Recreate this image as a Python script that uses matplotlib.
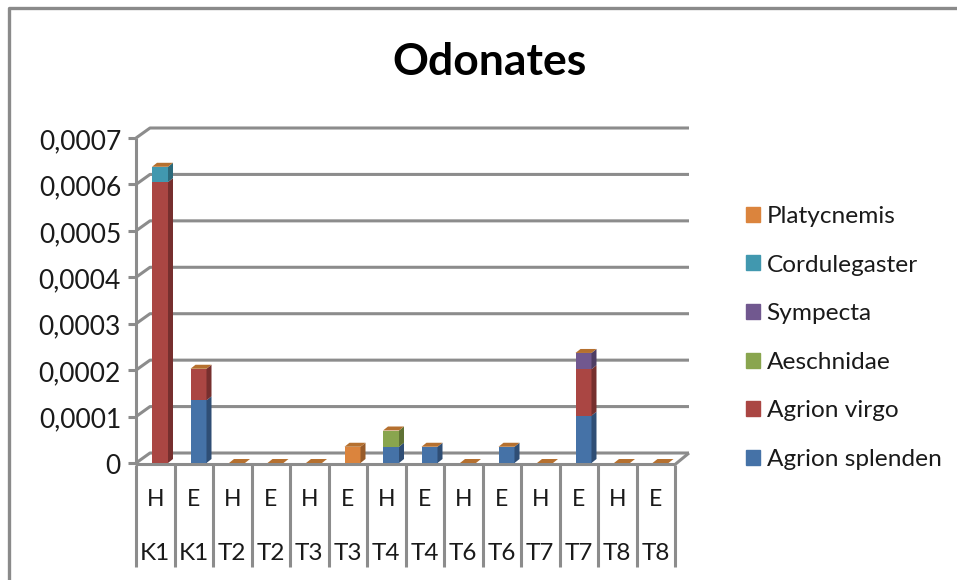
import numpy as np
import matplotlib.pyplot as plt
from matplotlib.patches import Polygon, Patch

plt.rcParams['font.family'] = ['Lato', 'DejaVu Sans']

treatments = ['H', 'E', 'H', 'E', 'H', 'E', 'H', 'E', 'H', 'E', 'H', 'E', 'H', 'E']
sites = ['K1', 'K1', 'T2', 'T2', 'T3', 'T3', 'T4', 'T4', 'T6', 'T6', 'T7', 'T7', 'T8', 'T8']

agrion_splenden = [0, 0.000135, 0, 0, 0, 0, 0.000035, 0.000035, 0, 0.000035, 0, 0.000102, 0, 0]
agrion_virgo = [0.000605, 0.000068, 0, 0, 0, 0, 0, 0, 0, 0, 0, 0.0001, 0, 0]
aeschnidae = [0, 0, 0, 0, 0, 0, 0.000035, 0, 0, 0, 0, 0, 0, 0]
sympecta = [0, 0, 0, 0, 0, 0, 0, 0, 0, 0, 0, 0.000035, 0, 0]
cordulegaster = [0.000033, 0, 0, 0, 0, 0, 0, 0, 0, 0, 0, 0, 0, 0]
platycnemis = [0, 0, 0, 0, 0, 0.000035, 0, 0, 0, 0, 0, 0, 0, 0]

series = [agrion_splenden, agrion_virgo, aeschnidae, sympecta, cordulegaster, platycnemis]
names = ['Agrion splenden', 'Agrion virgo', 'Aeschnidae', 'Sympecta', 'Cordulegaster', 'Platycnemis']
colors = ['#4572A7', '#AA4643', '#89A54E', '#71588F', '#4198AF', '#DB843D']
side_colors = ['#2F4E75', '#762F2E', '#5F7235', '#4E3D63', '#2C6A7B', '#985B29']
top_color = '#B5702F'
yticks = [0, 0.0001, 0.0002, 0.0003, 0.0004, 0.0005, 0.0006, 0.0007]
ytick_labels = ['0', '0,0001', '0,0002', '0,0003', '0,0004', '0,0005', '0,0006', '0,0007']

W, H = 957, 580
grid_col = '#8C8C8C'
text_col = '#1A1A1A'

fig = plt.figure(figsize=(W / 100, H / 100), dpi=100)

# axes = front plane of the 3d box, in pixels
left, right, bottom, top = 136, 675, 463, 138
ax = fig.add_axes([left / W, 1 - bottom / H, (right - left) / W, (bottom - top) / H])
ax.set_xlim(0, 14)
ax.set_ylim(0, 0.0007)
ax.axis('off')

px_x = 14 / (right - left)
px_y = 0.0007 / (bottom - top)
depth_x, depth_y = 14 * px_x, 10 * px_y


def seg(xs, ys, lw=2.2, z=1):
    ax.plot(xs, ys, color=grid_col, lw=lw, clip_on=False, zorder=z, solid_capstyle='butt')


# back wall gridlines and left wall
for v in yticks:
    seg([0, depth_x, 14 + depth_x], [v, v + depth_y, v + depth_y])
    seg([-8 * px_x, 0], [v, v])
seg([0, 0], [0, 0.0007])
# floor
seg([0, 14, 14 + depth_x], [-1.5 * px_y, -1.5 * px_y, depth_y])

# category table under the axis
for i in range(15):
    seg([i, i], [-1.5 * px_y, -104 * px_y])
for i in range(14):
    ax.text(i + 0.5, -37 * px_y, treatments[i], ha='center', va='center', fontsize=16.5, color=text_col)
    ax.text(i + 0.5, -90 * px_y, sites[i], ha='center', va='center', fontsize=17.5, color=text_col)

for v, lab in zip(yticks, ytick_labels):
    ax.text(-15 * px_x, v - 3.5 * px_y, lab, ha='right', va='center', fontsize=19, color=text_col)

# stacked bars with 3d side and top
bar_w = 16 * px_x
bar_off = 16 * px_x
sx, sy = 5 * px_x, 4 * px_y
base = np.zeros(14)
for vals, col, side in zip(series, colors, side_colors):
    vals = np.array(vals)
    xs = np.arange(14) + bar_off
    ax.bar(xs, vals, bar_w, bottom=base, align='edge', color=col, lw=0, zorder=3)
    for x, b, v in zip(xs, base, vals):
        if v > 0:
            ax.add_patch(Polygon([(x + bar_w, b), (x + bar_w + sx, b + sy), (x + bar_w + sx, b + v + sy), (x + bar_w, b + v)],
                                 color=side, lw=0, zorder=3, clip_on=False))
    base = base + vals
for x, b in zip(np.arange(14) + bar_off, base):
    ax.add_patch(Polygon([(x, b), (x + bar_w, b), (x + bar_w + sx, b + sy), (x + sx, b + sy)],
                         color=top_color, lw=0, zorder=4, clip_on=False))

# outer chart border, only top and left show
fig.add_artist(plt.Line2D([9 / W, 9 / W, 1], [0, 1 - 8 / H, 1 - 8 / H], color='#8A8A8A', lw=2.4))

fig.text(489 / W, 1 - 62 / H, 'Odonates', ha='center', va='center', fontsize=32, fontweight='bold', color='black')

handles = [Patch(color=c, label=n) for c, n in zip(colors[::-1], names[::-1])]
fig.legend(handles=handles, loc='center left', bbox_to_anchor=(746 / W, 1 - 338 / H), frameon=False,
           fontsize=17.6, labelcolor=text_col, handlelength=0.57, handleheight=0.57, handletextpad=0.27,
           labelspacing=1.13, borderpad=0, borderaxespad=0)

fig.savefig('out.png', dpi=100)
